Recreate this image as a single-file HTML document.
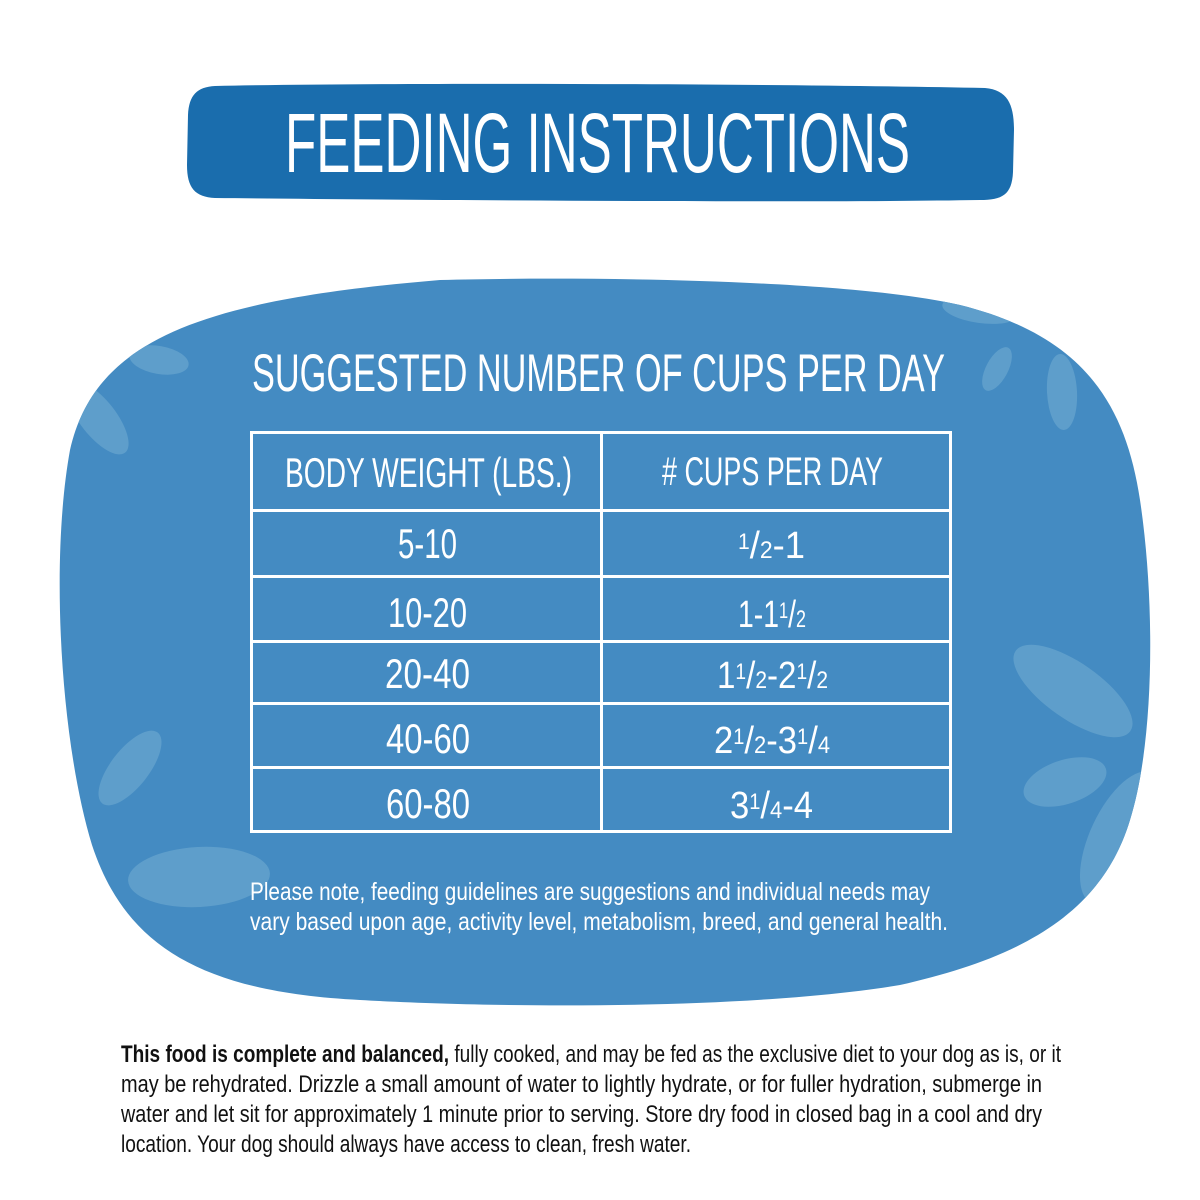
<!DOCTYPE html>
<html><head><meta charset="utf-8"><style>
html,body{margin:0;padding:0;background:#fff;}
svg{display:block;}
text{font-family:"Liberation Sans",sans-serif;}
</style></head><body>
<svg width="1200" height="1200" viewBox="0 0 1200 1200" xmlns="http://www.w3.org/2000/svg">
<rect width="1200" height="1200" fill="#fff"/>
<defs>
<clipPath id="blobclip"><path id="blobp" d="M 440 280 C 600 276, 850 280, 960 305 C 1080 335, 1125 400, 1140 500 C 1155 600, 1155 740, 1130 820 C 1100 920, 1010 960, 900 985 C 750 1010, 500 1008, 360 1000 C 200 992, 125 945, 92 845 C 60 740, 50 560, 70 450 C 95 340, 200 300, 440 280 Z"/></clipPath>
</defs>
<!-- banner -->
<path d="M 215 86 C 400 82, 800 84, 985 88 C 1008 90, 1014 105, 1014 130 L 1013 172 C 1012 195, 1002 200, 980 200 C 800 203, 400 200, 215 198 C 195 197, 187 188, 187 165 L 188 115 C 189 95, 197 87, 215 86 Z" fill="#1a6dad"/>
<text x="285" y="172" font-size="84" fill="#fff" textLength="625" lengthAdjust="spacingAndGlyphs">FEEDING INSTRUCTIONS</text>
<!-- blob -->
<path d="M 440 280 C 600 276, 850 280, 960 305 C 1080 335, 1125 400, 1140 500 C 1155 600, 1155 740, 1130 820 C 1100 920, 1010 960, 900 985 C 750 1010, 500 1008, 360 1000 C 200 992, 125 945, 92 845 C 60 740, 50 560, 70 450 C 95 340, 200 300, 440 280 Z" fill="#448bc2"/>
<g clip-path="url(#blobclip)" fill="#5e9ecb">
<ellipse cx="159" cy="360" rx="30" ry="14" transform="rotate(10 159 360)"/>
<ellipse cx="98" cy="418" rx="44" ry="18" transform="rotate(52 98 418)"/>
<ellipse cx="980" cy="310" rx="38" ry="13" transform="rotate(8 980 310)"/>
<ellipse cx="997" cy="369" rx="24" ry="11" transform="rotate(-62 997 369)"/>
<ellipse cx="1062" cy="392" rx="15" ry="38" transform="rotate(-3 1062 392)"/>
<ellipse cx="130" cy="768" rx="45" ry="19" transform="rotate(-52 130 768)"/>
<ellipse cx="199" cy="877" rx="71" ry="30" transform="rotate(-3 199 877)"/>
<ellipse cx="1073" cy="691" rx="70" ry="28" transform="rotate(35 1073 691)"/>
<ellipse cx="1065" cy="782" rx="43" ry="22" transform="rotate(-18 1065 782)"/>
<ellipse cx="1122" cy="838" rx="32" ry="72" transform="rotate(25 1122 838)"/>
</g>
<text x="252" y="391" font-size="53" fill="#fff" textLength="693" lengthAdjust="spacingAndGlyphs">SUGGESTED NUMBER OF CUPS PER DAY</text>
<!-- table -->
<g stroke="#fff" stroke-width="3" fill="none">
<rect x="251.5" y="432.5" width="699" height="399"/>
<line x1="251" y1="510.5" x2="951" y2="510.5"/>
<line x1="251" y1="576.5" x2="951" y2="576.5"/>
<line x1="251" y1="641.5" x2="951" y2="641.5"/>
<line x1="251" y1="703.5" x2="951" y2="703.5"/>
<line x1="251" y1="767.5" x2="951" y2="767.5"/>
<line x1="601.5" y1="432" x2="601.5" y2="832"/>
</g>
<g fill="#fff">
<text x="285" y="487" font-size="42" textLength="287" lengthAdjust="spacingAndGlyphs">BODY WEIGHT (LBS.)</text>
<text x="662" y="485" font-size="40" textLength="221" lengthAdjust="spacingAndGlyphs"># CUPS PER DAY</text>

<text x="398" y="558" font-size="42" textLength="59" lengthAdjust="spacingAndGlyphs">5-10</text>
<text x="388" y="627" font-size="42" textLength="79" lengthAdjust="spacingAndGlyphs">10-20</text>
<text x="385" y="688" font-size="42" textLength="85" lengthAdjust="spacingAndGlyphs">20-40</text>
<text x="386" y="753" font-size="42" textLength="84" lengthAdjust="spacingAndGlyphs">40-60</text>
<text x="386" y="818" font-size="42" textLength="84" lengthAdjust="spacingAndGlyphs">60-80</text>

<text x="738" y="558" font-size="38" textLength="67" lengthAdjust="spacingAndGlyphs"><tspan font-size="22" dy="-9">1</tspan><tspan dy="9">/</tspan><tspan font-size="24">2</tspan>-1</text>
<text x="738" y="627" font-size="38" textLength="68" lengthAdjust="spacingAndGlyphs">1-1<tspan font-size="22" dy="-9">1</tspan><tspan dy="9">/</tspan><tspan font-size="24">2</tspan></text>
<text x="717" y="688" font-size="38" textLength="111" lengthAdjust="spacingAndGlyphs">1<tspan font-size="22" dy="-9">1</tspan><tspan dy="9">/</tspan><tspan font-size="24">2</tspan>-2<tspan font-size="22" dy="-9">1</tspan><tspan dy="9">/</tspan><tspan font-size="24">2</tspan></text>
<text x="714" y="753" font-size="38" textLength="116" lengthAdjust="spacingAndGlyphs">2<tspan font-size="22" dy="-9">1</tspan><tspan dy="9">/</tspan><tspan font-size="24">2</tspan>-3<tspan font-size="22" dy="-9">1</tspan><tspan dy="9">/</tspan><tspan font-size="24">4</tspan></text>
<text x="730" y="818" font-size="38" textLength="83" lengthAdjust="spacingAndGlyphs">3<tspan font-size="22" dy="-9">1</tspan><tspan dy="9">/</tspan><tspan font-size="24">4</tspan>-4</text>

<text x="250" y="900" font-size="25" textLength="680" lengthAdjust="spacingAndGlyphs">Please note, feeding guidelines are suggestions and individual needs may</text>
<text x="250" y="930" font-size="25" textLength="698" lengthAdjust="spacingAndGlyphs">vary based upon age, activity level, metabolism, breed, and general health.</text>
</g>
<g fill="#111">
<text x="121" y="1062" font-size="24" textLength="940" lengthAdjust="spacingAndGlyphs"><tspan font-weight="bold">This food is complete and balanced,</tspan> fully cooked, and may be fed as the exclusive diet to your dog as is, or it</text>
<text x="121" y="1092" font-size="24" textLength="921" lengthAdjust="spacingAndGlyphs">may be rehydrated. Drizzle a small amount of water to lightly hydrate, or for fuller hydration, submerge in</text>
<text x="121" y="1122" font-size="24" textLength="921" lengthAdjust="spacingAndGlyphs">water and let sit for approximately 1 minute prior to serving. Store dry food in closed bag in a cool and dry</text>
<text x="121" y="1152" font-size="24" textLength="570" lengthAdjust="spacingAndGlyphs">location. Your dog should always have access to clean, fresh water.</text>
</g>
</svg>
</body></html>
